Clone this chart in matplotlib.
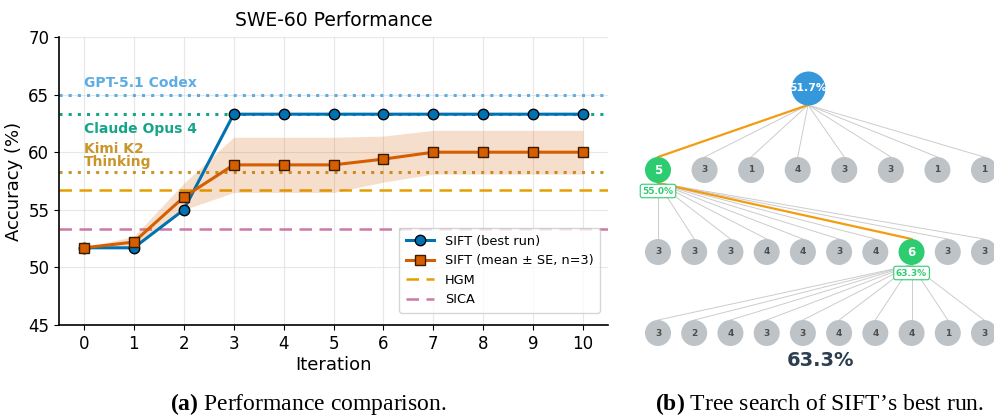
import numpy as np
import matplotlib
matplotlib.use("Agg")
import matplotlib.pyplot as plt

# ---- data: SWE-60 performance ----
iterations = list(range(11))
best_run = [51.7, 51.7, 55.0, 63.3, 63.3, 63.3, 63.3, 63.3, 63.3, 63.3, 63.3]
mean_run = [51.7, 52.2, 56.1, 58.9, 58.9, 58.9, 59.4, 60.0, 60.0, 60.0, 60.0]
se_upper = [51.7, 52.7, 57.3, 61.3, 61.3, 61.3, 61.4, 61.9, 61.9, 61.9, 61.9]
se_lower = [51.7, 51.7, 55.0, 56.5, 56.5, 56.5, 57.4, 58.1, 58.1, 58.1, 58.1]

ref_names = ["GPT-5.1 Codex", "Claude Opus 4", "Kimi K2\nThinking"]
ref_values = [65.0, 63.3, 58.3]
hgm_value = 56.7
sica_value = 53.3

# ---- data: tree search of best run ----
root_label = "51.7%"
level1_counts = [5, 3, 1, 4, 3, 3, 1, 1]
level2_counts = [3, 3, 3, 4, 4, 3, 4, 6, 3, 3]
level3_counts = [3, 2, 4, 3, 3, 4, 4, 4, 1, 3]
level1_best = 0
level2_best = 7
level1_score = "55.0%"
level2_score = "63.3%"
final_score = "63.3%"

BLUE = "#0072B2"
VERM = "#D55E00"

plt.rcParams["mathtext.fontset"] = "custom"
plt.rcParams["mathtext.bf"] = "Liberation Serif:bold"
plt.rcParams["mathtext.rm"] = "Liberation Serif"

fig = plt.figure(figsize=(9.95, 4.18), dpi=100)

# -----------------------------
# (a) performance line chart
# -----------------------------
ax = fig.add_axes([59 / 995, 1 - 325 / 418, 549 / 995, 288 / 418])
ax.set_zorder(2)

ref_colors = ["#5DADE2", "#17A589", "#C9962B"]
ref_text_y = [65.4, 62.0, 59.7]
for name, val, col, ty in zip(ref_names, ref_values, ref_colors, ref_text_y):
    ax.axhline(val, color=col, ls=(0, (1, 2)), lw=2.2, zorder=1)
    ax.text(0, ty, name, color=col, fontsize=10, fontweight="bold",
            va="bottom" if val == 65.0 else "center", ha="left",
            linespacing=0.85, zorder=3)

ax.axhline(hgm_value, color="#E69F00", ls=(0, (5, 3)), lw=1.8, label="HGM", zorder=1)
ax.axhline(sica_value, color="#CC79A7", ls=(0, (5, 3)), lw=1.8, label="SICA", zorder=1)

ax.fill_between(iterations, se_lower, se_upper, color=VERM, alpha=0.2, lw=0, zorder=2)
ax.plot(iterations, best_run, color=BLUE, lw=2.2, marker="o", ms=7.5,
        mec="black", mew=1.0, label="SIFT (best run)", zorder=5)
ax.plot(iterations, mean_run, color=VERM, lw=2.2, marker="s", ms=7.5,
        mec="#3a1a00", mew=1.0, label="SIFT (mean \u00b1 SE, n=3)", zorder=6)

ax.set_xlim(-0.5, 10.5)
ax.set_ylim(45, 70)
ax.set_xticks(iterations)
ax.set_yticks([45, 50, 55, 60, 65, 70])
ax.tick_params(labelsize=12)
ax.grid(True, color="#dddddd", lw=0.8, alpha=0.7)
ax.set_axisbelow(True)
for s in ["top", "right"]:
    ax.spines[s].set_visible(False)
ax.spines["left"].set_linewidth(1.2)
ax.spines["bottom"].set_linewidth(1.2)
ax.set_title("SWE-60 Performance", fontsize=13.5, pad=8)
ax.set_xlabel("Iteration", fontsize=13, labelpad=2)
ax.set_ylabel("Accuracy (%)", fontsize=13)

h, l = ax.get_legend_handles_labels()
order = [l.index("SIFT (best run)"), l.index("SIFT (mean \u00b1 SE, n=3)"),
         l.index("HGM"), l.index("SICA")]
ax.legend([h[i] for i in order], [l[i] for i in order], loc="lower right",
          fontsize=9.3, frameon=True, borderpad=0.5, handlelength=2.2,
          bbox_to_anchor=(0.997, 0.02))

# -----------------------------
# (b) tree search (pixel coordinates)
# -----------------------------
tx = fig.add_axes([0, 0, 1, 1])
tx.set_zorder(1)
tx.set_xlim(0, 995)
tx.set_ylim(418, 0)
tx.axis("off")

GRAY_NODE = "#BDC3C7"
GREEN = "#2ECC71"
ROOT = "#3498DB"
EDGE = "#cccccc"
PATH = "#F39C12"

x_left, x_right = 658, 984
root_xy = (808, 88)
lvl_y = [170, 252, 333]
r_root, r_node = 17, 13

x1 = np.linspace(x_left, x_right, len(level1_counts))
x2 = np.linspace(x_left, x_right, len(level2_counts))
x3 = np.linspace(x_left, x_right, len(level3_counts))

# edges root -> level 1
for i, x in enumerate(x1):
    best = i == level1_best
    tx.plot([root_xy[0], x], [root_xy[1] + r_root, lvl_y[0] - r_node],
            color=PATH if best else EDGE, lw=1.6 if best else 0.7, zorder=2 if best else 1)
# edges level 1 best -> level 2
p1 = (x1[level1_best], lvl_y[0] + r_node)
for i, x in enumerate(x2):
    best = i == level2_best
    tx.plot([p1[0], x], [p1[1], lvl_y[1] - r_node],
            color=PATH if best else EDGE, lw=1.6 if best else 0.7, zorder=2 if best else 1)
# edges level 2 best -> level 3
p2 = (x2[level2_best], lvl_y[1] + r_node)
for x in x3:
    tx.plot([p2[0], x], [p2[1], lvl_y[2] - r_node], color=EDGE, lw=0.7, zorder=1)

s_node = (2 * r_node * 0.72) ** 2
s_root = (2 * r_root * 0.72) ** 2

tx.scatter([root_xy[0]], [root_xy[1]], s=s_root, color=ROOT, zorder=3, lw=0)
tx.text(root_xy[0], root_xy[1], root_label, color="white", fontsize=7.8,
        fontweight="bold", ha="center", va="center", zorder=4)


def draw_level(xs, y, counts, best):
    cols = [GREEN if i == best else GRAY_NODE for i in range(len(xs))]
    tx.scatter(xs, [y] * len(xs), s=s_node, color=cols, zorder=3, lw=0)
    for i, (x, c) in enumerate(zip(xs, counts)):
        if i == best:
            tx.text(x, y, str(c), color="white", fontsize=8.5, fontweight="bold",
                    ha="center", va="center", zorder=4)
        else:
            tx.text(x, y, str(c), color="#4d4d4d", fontsize=6.5, fontweight="bold",
                    ha="center", va="center", zorder=4)


draw_level(x1, lvl_y[0], level1_counts, level1_best)
draw_level(x2, lvl_y[1], level2_counts, level2_best)
draw_level(x3, lvl_y[2], level3_counts, None)

box = dict(boxstyle="round,pad=0.25", fc="white", ec=GREEN, lw=0.8)
tx.text(x1[level1_best], lvl_y[0] + 21, level1_score, color=GREEN, fontsize=6.5,
        fontweight="bold", ha="center", va="center", bbox=box, zorder=5)
tx.text(x2[level2_best], lvl_y[1] + 21, level2_score, color=GREEN, fontsize=6.5,
        fontweight="bold", ha="center", va="center", bbox=box, zorder=5)
tx.text(821, 360, final_score, color="#2C3E50", fontsize=14, fontweight="bold",
        ha="center", va="center", zorder=5)

# captions
cap = dict(fontsize=17, family="Liberation Serif", ha="center", va="center")
fig.text(308 / 995, 1 - 404 / 418, "$\\mathbf{(a)}$ Performance comparison.", **cap)
fig.text(820 / 995, 1 - 404 / 418, "$\\mathbf{(b)}$ Tree search of SIFT\u2019s best run.", **cap)

fig.savefig("out.png", dpi=100)
